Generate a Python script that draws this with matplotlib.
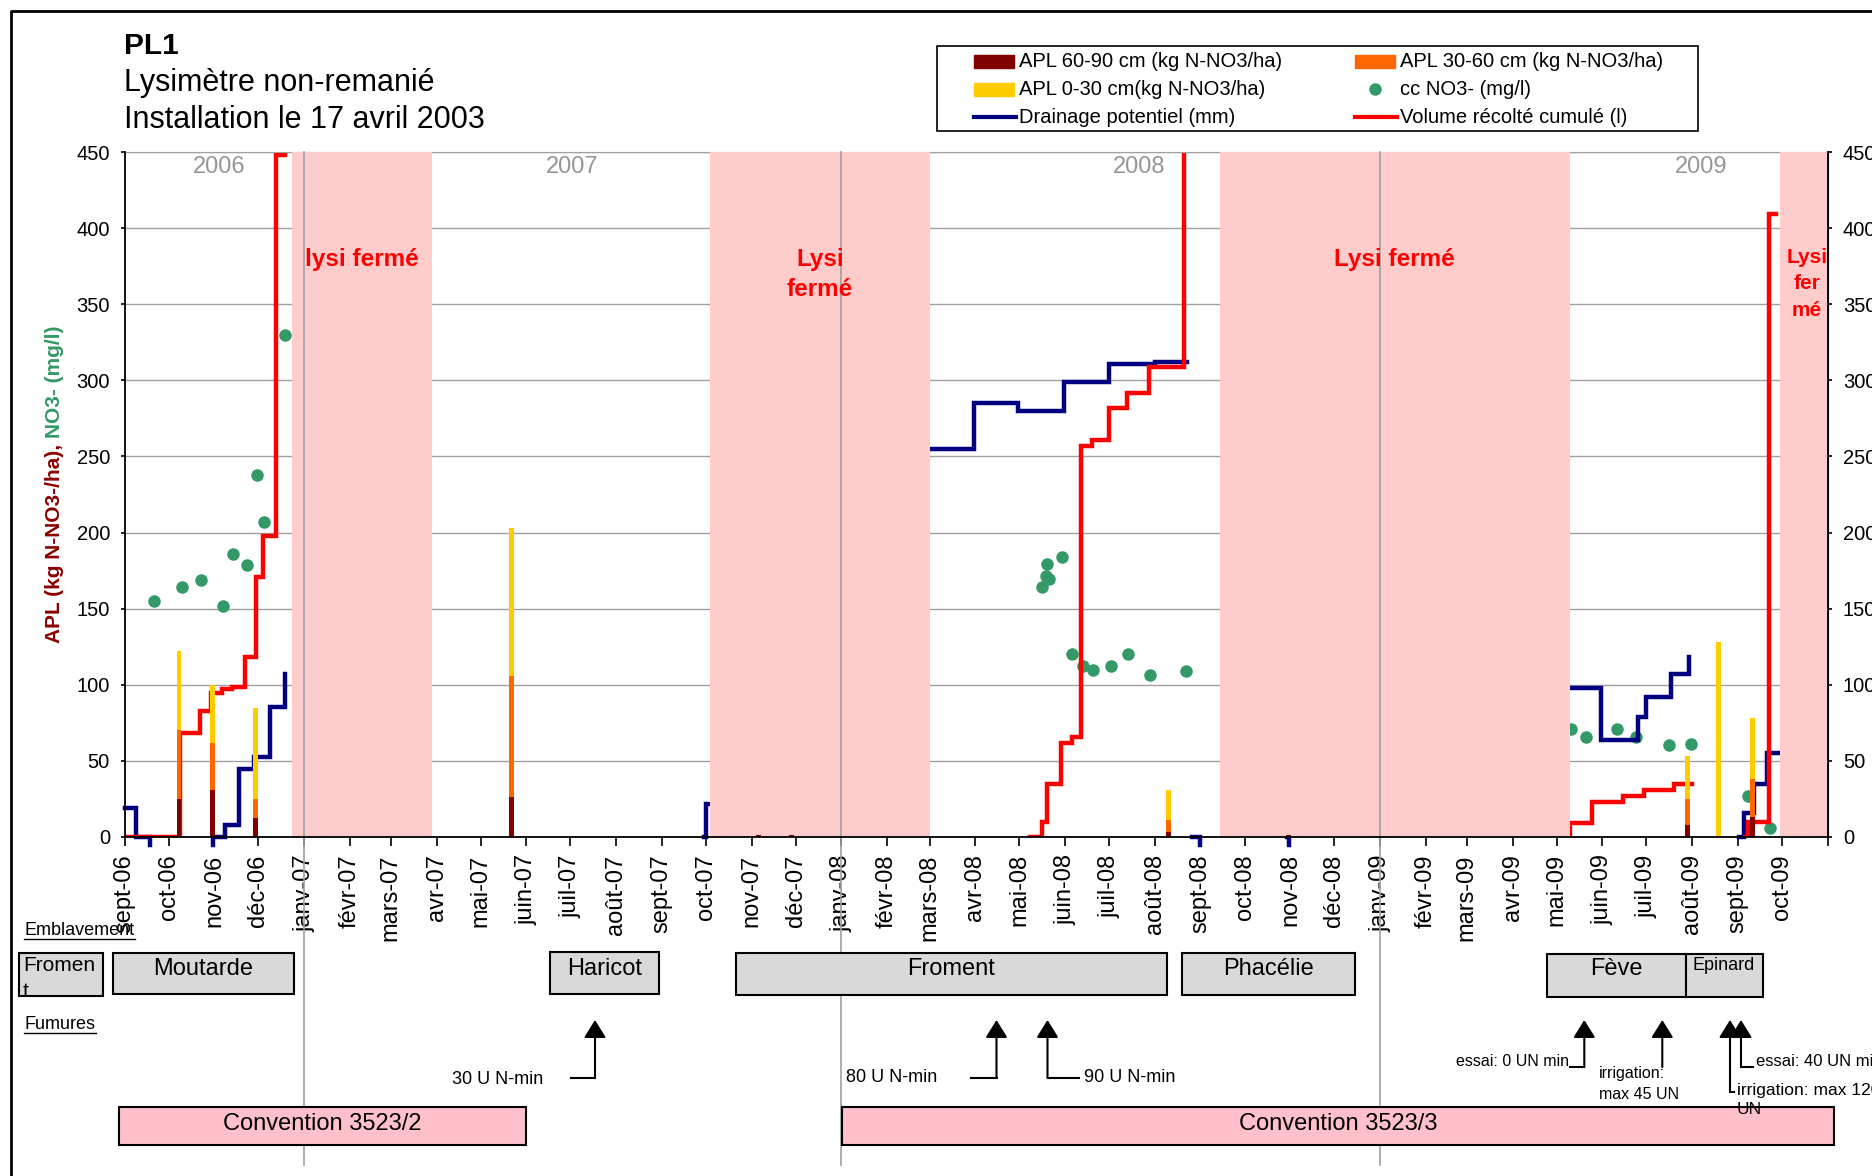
import matplotlib
matplotlib.use('Agg')
import matplotlib.pyplot as plt
import matplotlib.dates as mdates
import matplotlib.patches as patches
import pandas as pd

plt.rcParams['font.family'] = ['Liberation Sans', 'DejaVu Sans']

# ---------------- data ----------------
month_labels = ['sept-06', 'oct-06', 'nov-06', 'déc-06',
                'janv-07', 'févr-07', 'mars-07', 'avr-07', 'mai-07', 'juin-07',
                'juil-07', 'août-07', 'sept-07', 'oct-07', 'nov-07', 'déc-07',
                'janv-08', 'févr-08', 'mars-08', 'avr-08', 'mai-08', 'juin-08',
                'juil-08', 'août-08', 'sept-08', 'oct-08', 'nov-08', 'déc-08',
                'janv-09', 'févr-09', 'mars-09', 'avr-09', 'mai-09', 'juin-09',
                'juil-09', 'août-09', 'sept-09', 'oct-09']

apl_dates = ['2006-10-08', '2006-10-31', '2006-11-29', '2007-05-22', '2007-11-06',
             '2007-11-28', '2008-08-10', '2008-10-31', '2009-07-29', '2009-08-19',
             '2009-09-11']
apl_60_90 = [25, 31, 12.5, 26, 1, 1, 3, 1, 8, 0, 13]
apl_30_60 = [45, 31, 12.5, 80, 0, 0, 8, 0, 17, 0, 25]
apl_0_30 = [52, 38, 60, 97, 0, 0, 20, 0, 28, 128, 40]

no3_dates = ['2006-09-21', '2006-10-10', '2006-10-23', '2006-11-07', '2006-11-14',
             '2006-11-23', '2006-11-30', '2006-12-05', '2006-12-19',
             '2008-05-16', '2008-05-19', '2008-05-21', '2008-05-20', '2008-05-30',
             '2008-06-06', '2008-06-13', '2008-06-20', '2008-07-02', '2008-07-14',
             '2008-07-29', '2008-08-22',
             '2009-05-11', '2009-05-21', '2009-06-11', '2009-06-24', '2009-07-16',
             '2009-07-31', '2009-09-08', '2009-09-23']
no3_values = [155, 164, 169, 152, 186, 179, 238, 207, 330,
              164, 171.5, 169.5, 179.5, 184, 120, 112.5, 110, 112.5, 120, 106.5, 109,
              71, 66, 71, 66, 60.5, 61, 27, 6]

# None separates the pieces of a series
drainage_dates = ['2006-09-01', '2006-09-09', '2006-09-18', None,
                  '2006-10-31', '2006-10-31', '2006-11-08', '2006-11-18', '2006-11-28',
                  '2006-12-09', '2006-12-19', None,
                  '2007-09-30', '2007-10-01', '2007-10-04', None,
                  '2008-03-01', '2008-03-31', '2008-04-30', '2008-05-31', '2008-07-01',
                  '2008-08-01', '2008-08-23', None,
                  '2008-08-26', '2008-09-01', None,
                  '2008-10-30', '2008-10-31', None,
                  '2009-05-10', '2009-05-31', '2009-06-25', '2009-07-01', '2009-07-18',
                  '2009-07-30', None,
                  '2009-09-02', '2009-09-05', '2009-09-12', '2009-09-21', '2009-09-30']
drainage_values = [19, 0, -5, None,
                   -5, 0, 8, 44.5, 52.5, 85.5, 107, None,
                   0, 22, 22, None,
                   255, 285, 280, 299, 310.5, 312, 312, None,
                   0, -5, None,
                   0, -5, None,
                   98, 64, 79, 92, 107, 118.5, None,
                   0, 16, 35, 55, 55]

volume_dates = ['2006-09-01', '2006-10-09', '2006-10-22', '2006-10-30', '2006-11-06',
                '2006-11-13', '2006-11-22', '2006-11-29', '2006-12-04', '2006-12-13',
                '2006-12-19', None,
                '2008-05-08', '2008-05-16', '2008-05-20', '2008-05-29', '2008-06-06',
                '2008-06-12', '2008-06-19', '2008-07-01', '2008-07-13', '2008-07-28',
                '2008-08-21', None,
                '2009-05-03', '2009-05-10', '2009-05-25', '2009-06-15', '2009-06-29',
                '2009-07-20', '2009-08-01', None,
                '2009-09-06', '2009-09-08', '2009-09-22', '2009-09-27']
volume_values = [0, 68, 83, 94.5, 97, 98.5, 118, 171, 197.5, 448, 448, None,
                 0, 10, 34.5, 61.5, 65.5, 257, 261, 281.5, 292, 309, 520, None,
                 0, 9, 23, 27, 31, 34.5, 34.5, None,
                 0, 10, 409, 409]

closed_start = ['2006-12-24', '2007-10-04', '2008-09-14', '2009-09-30']
closed_end = ['2007-03-29', '2008-03-01', '2009-05-10', '2009-11-05']
closed_labels = ['lysi fermé', 'Lysi\nfermé', 'Lysi fermé', 'Lysi\nfer\nmé']

years = ['2006', '2007', '2008', '2009']

C_DEEP = '#800000'
C_MID = '#FF6600'
C_TOP = '#FFCC00'
C_NO3 = '#339966'
C_DRAIN = '#000080'
C_VOL = '#FF0000'


def dn(s):
    return mdates.datestr2num(s)


def pieces(dates, values):
    out, xs, ys = [], [], []
    for d, v in zip(dates, values):
        if d is None:
            out.append((xs, ys))
            xs, ys = [], []
        else:
            xs.append(dn(d))
            ys.append(v)
    out.append((xs, ys))
    return out


# ---------------- figure ----------------
W, H = 1872, 1176
fig = plt.figure(figsize=(W / 100, H / 100), dpi=100)
ax = fig.add_axes([124.5 / W, 339 / H, 1703 / W, 685 / H])

ticks = pd.date_range('2006-09-01', '2009-11-01', freq='MS')
ax.set_xlim(dn('2006-09-01'), dn('2009-11-01'))
ax.set_ylim(0, 450)
ax.set_xticks(mdates.date2num(ticks.to_pydatetime()))
ax.set_xticklabels(month_labels + [''])
ax.set_yticks(range(0, 451, 50))
ax.tick_params(axis='x', labelsize=17, length=6.5, pad=6, rotation=90, width=1.2)
ax.tick_params(axis='y', labelsize=14.5, length=3, pad=7.5, width=1.2)
ax.yaxis.grid(True, color='#A0A0A0', lw=1.0)
ax.set_axisbelow(True)
ax.spines['top'].set_color('#A0A0A0')
for s in ['left', 'bottom', 'right']:
    ax.spines[s].set_linewidth(1.3)
    ax.spines[s].set_zorder(5)

# closed periods
for s, e, lab in zip(closed_start, closed_end, closed_labels):
    ax.axvspan(dn(s), dn(e), color='#FFCCCC', lw=0, zorder=3)
    small = lab.count('\n') > 1
    ax.text((dn(s) + dn(e)) / 2, 387, lab, ha='center', va='top', color='red',
            fontweight='bold', fontsize=15 if small else 17.5,
            linespacing=1.5 if small else 1.42, zorder=6)

# year separators
for y in ['2007-01-01', '2008-01-01', '2009-01-01']:
    ax.axvline(dn(y), ymin=(837 - 1165) / 685, ymax=1, color='#A0A0A0', lw=1.2,
               clip_on=False, zorder=5)

for yr, d in zip(years, ['2006-11-04', '2007-07-02', '2008-07-21', '2009-08-07']):
    ax.text(dn(d), 440, yr, ha='center', va='center', color='#969696', fontsize=17,
            zorder=6)

# APL bars
xb = dn(apl_dates)
mid_bottom = apl_60_90
top_bottom = [a + b for a, b in zip(apl_60_90, apl_30_60)]
ax.bar(xb, apl_60_90, width=3.3, color=C_DEEP, zorder=4)
ax.bar(xb, apl_30_60, width=3.3, bottom=mid_bottom, color=C_MID, zorder=4)
ax.bar(xb, apl_0_30, width=3.3, bottom=top_bottom, color=C_TOP, zorder=4)

ax.plot(dn(no3_dates), no3_values, 'o', color=C_NO3, ms=9, mec='none', zorder=2)

for xs, ys in pieces(drainage_dates, drainage_values):
    ax.plot(xs, ys, color=C_DRAIN, lw=3.2, drawstyle='steps-post', zorder=2.2,
            clip_on=False, solid_joinstyle='miter')
for xs, ys in pieces(volume_dates, volume_values):
    ax.plot(xs, ys, color=C_VOL, lw=3.2, drawstyle='steps-post', zorder=2.3,
            solid_joinstyle='miter')

ax2 = ax.twinx()
ax2.set_ylim(0, 450)
ax2.set_yticks(range(0, 451, 50))
ax2.tick_params(axis='y', labelsize=14.5, length=3, pad=8, width=1.2)
for s in ['top', 'left', 'bottom']:
    ax2.spines[s].set_visible(False)

# ---------------- overlay in pixel coordinates ----------------
ov = fig.add_axes([0, 0, 1, 1], zorder=10)
ov.set_xlim(0, W)
ov.set_ylim(H, 0)
ov.axis('off')

ov.plot([10.8, 10.8, W], [H, 10.7, 10.7], color='black', lw=2)

ov.text(124, 53.6, 'PL1', fontsize=21.5, fontweight='bold', va='baseline')
ov.text(124, 91, 'Lysimètre non-remanié', fontsize=22, va='baseline')
ov.text(124, 128, 'Installation le 17 avril 2003', fontsize=22, va='baseline')

ov.text(55, 438, 'APL (kg N-NO3-/ha), ', rotation=90, color='#8B0000',
        fontweight='bold', fontsize=15, ha='center', va='top')
ov.text(55, 438, 'NO3- (mg/l)', rotation=90, color=C_NO3,
        fontweight='bold', fontsize=15, ha='center', va='bottom')

# legend
ov.add_patch(patches.Rectangle((937.2, 45.7), 760.4, 85.7, facecolor='white',
                               edgecolor='black', lw=1.2))
rows = [61.4, 89.3, 117.1]
ov.add_patch(patches.Rectangle((974, rows[0] - 6.3), 40, 12.6, color=C_DEEP))
ov.add_patch(patches.Rectangle((974, rows[1] - 6.3), 40, 12.6, color=C_TOP))
ov.plot([974, 1016], [rows[2], rows[2]], color=C_DRAIN, lw=3)
ov.add_patch(patches.Rectangle((1355, rows[0] - 6.3), 40, 12.6, color=C_MID))
ov.plot([1374.5], [rows[1]], 'o', color=C_NO3, ms=9, mec='none')
ov.plot([1355, 1397], [rows[2], rows[2]], color=C_VOL, lw=3)
leg_text = [(1019, rows[0], 'APL 60-90 cm (kg N-NO3/ha)'),
            (1019, rows[1], 'APL 0-30 cm(kg N-NO3/ha)'),
            (1019, rows[2], 'Drainage potentiel (mm)'),
            (1400, rows[0], 'APL 30-60 cm (kg N-NO3/ha)'),
            (1400, rows[1], 'cc NO3- (mg/l)'),
            (1400, rows[2], 'Volume récolté cumulé (l)')]
for x, y, t in leg_text:
    ov.text(x, y, t, fontsize=14.5, va='center', ha='left')

# section headings
ov.text(24, 935, 'Emblavement', fontsize=13, va='baseline')
ov.plot([24, 135], [938.5, 938.5], color='black', lw=1)
ov.text(24, 1029, 'Fumures', fontsize=13, va='baseline')
ov.plot([24, 96], [1032.5, 1032.5], color='black', lw=1)

# crop boxes
crops = [(113, 294, 953, 994, 'Moutarde'), (550, 659, 952, 994, 'Haricot'),
         (736, 1167, 953, 995, 'Froment'), (1182, 1355, 953, 995, 'Phacélie'),
         (1547, 1686, 954, 997, 'Fève')]
for x0, x1, y0, y1, lab in crops:
    ov.add_patch(patches.Rectangle((x0, y0), x1 - x0, y1 - y0, facecolor='#D9D9D9',
                                   edgecolor='black', lw=1.5))
    ov.text((x0 + x1) / 2, 969, lab, fontsize=17, ha='center', va='center')
r = patches.Rectangle((1686, 954), 77, 43, facecolor='#D9D9D9', edgecolor='black', lw=1.5)
ov.add_patch(r)
ov.text(1724, 966, 'Epinard', fontsize=13, ha='center', va='center')
r = patches.Rectangle((19, 953), 84, 43, facecolor='#D9D9D9', edgecolor='black', lw=1.5)
ov.add_patch(r)
t = ov.text(23, 956, 'Fromen\nt', fontsize=15, ha='left', va='top', linespacing=1.45)
t.set_clip_path(r)

# fertilisation arrows
arrow_style = dict(arrowstyle='-|>,head_length=0.45,head_width=0.28', color='black',
                   lw=1.5, mutation_scale=24, shrinkA=0, shrinkB=0)
arrows = [(595, 1078, 571), (996.5, 1078, 971), (1047.5, 1078, 1079),
          (1584.3, 1067, 1570), (1662.3, 1067, None), (1730, 1092, 1734.3),
          (1741, 1067, 1753.3)]
for x, yb, xh in arrows:
    ov.annotate('', xy=(x, 1020), xytext=(x, yb), arrowprops=arrow_style)
    if xh is not None:
        ov.plot([x, xh], [yb, yb], color='black', lw=1.5)

ov.text(543, 1079, '30 U N-min', fontsize=13, ha='right', va='center')
ov.text(937, 1078, '80 U N-min', fontsize=13, ha='right', va='center')
ov.text(1084, 1077, '90 U N-min', fontsize=13, ha='left', va='center')
ov.text(1569, 1062, 'essai: 0 UN min', fontsize=11.5, ha='right', va='center')
ov.text(1599, 1066, 'irrigation:\nmax 45 UN', fontsize=11.5, ha='left', va='top',
        linespacing=1.5)
ov.text(1756, 1062, 'essai: 40 UN min', fontsize=12, ha='left', va='center')
ov.text(1737, 1083, 'irrigation: max 120\nUN', fontsize=12.5, ha='left', va='top',
        linespacing=1.3)

# conventions
for x0, x1, lab in [(118.7, 525.8, 'Convention 3523/2'), (841.7, 1834, 'Convention 3523/3')]:
    ov.add_patch(patches.Rectangle((x0, 1107), x1 - x0, 37.5, facecolor='#FFC0CB',
                                   edgecolor='black', lw=1.5, zorder=1))
    ov.text((x0 + x1) / 2, 1124, lab, fontsize=17, ha='center', va='center')

fig.savefig('out.png', dpi=100)
